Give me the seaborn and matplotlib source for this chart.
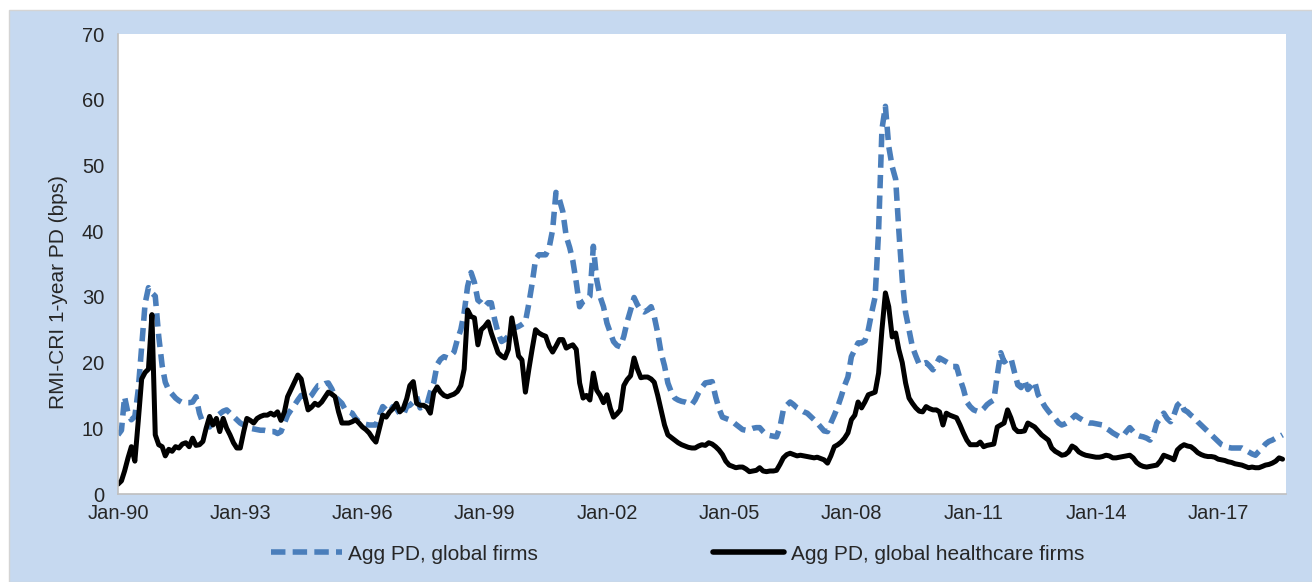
import matplotlib
matplotlib.use("Agg")
import matplotlib.pyplot as plt
from matplotlib.patches import Rectangle
from matplotlib.lines import Line2D
import numpy as np
import pandas as pd
import seaborn as sns

# ---------------- data (monthly, Jan-1990 .. Aug-2018), bps ----------------
global_pd = [
    9.0, 9.7, 14.8, 12.3, 11.3, 11.8, 15.8, 22.4, 29.0, 31.4, 30.6, 30.1,   # 1990
    24.0, 19.5, 17.0, 15.8, 15.2, 14.6, 14.2, 13.9, 13.9, 13.9, 14.0, 14.8,  # 1991
    12.3, 10.8, 10.5, 10.2, 11.3, 11.8, 12.2, 12.6, 12.8, 12.3, 11.8, 11.3,  # 1992
    10.8, 10.5, 10.2, 10.0, 9.9, 9.8, 9.7, 9.7, 9.6, 9.5, 9.5, 9.2,          # 1993
    9.5, 10.8, 12.0, 12.8, 13.5, 14.3, 15.0, 14.8, 14.6, 15.0, 15.8, 16.5,   # 1994
    16.5, 16.8, 16.9, 16.0, 14.8, 14.3, 13.8, 12.8, 12.5, 12.3, 11.5, 11.0,  # 1995
    10.8, 10.6, 10.5, 10.5, 10.5, 12.0, 13.3, 12.8, 12.5, 13.3, 13.0, 12.2,  # 1996
    12.0, 13.3, 13.5, 14.0, 14.8, 13.1, 13.3, 13.6, 15.5, 16.9, 19.7, 20.5,  # 1997
    20.9, 20.7, 21.0, 21.6, 23.5, 25.0, 27.6, 31.6, 33.7, 32.2, 29.5, 29.1,  # 1998
    28.5, 29.1, 29.1, 26.5, 24.5, 23.2, 23.5, 24.0, 25.0, 25.3, 25.5, 25.8,  # 1999
    26.2, 29.0, 32.0, 35.7, 36.4, 36.4, 36.4, 37.5, 40.2, 45.9, 44.8, 43.0,  # 2000
    39.2, 37.5, 35.5, 32.2, 28.5, 29.3, 29.6, 30.1, 37.7, 32.6, 30.0, 28.5,  # 2001
    26.0, 24.5, 23.2, 22.6, 22.4, 24.0, 26.2, 28.0, 29.9, 28.8, 28.0, 27.7,  # 2002
    28.0, 28.5, 27.0, 24.5, 21.5, 19.5, 16.9, 15.5, 14.6, 14.3, 14.1, 14.0,  # 2003
    13.8, 13.6, 14.3, 15.4, 16.2, 16.9, 17.0, 17.1, 14.8, 13.0, 11.7, 11.5,  # 2004
    11.3, 11.0, 10.6, 10.2, 9.8, 9.7, 9.8, 10.0, 10.1, 10.1, 9.5, 9.0,       # 2005
    8.9, 8.8, 8.7, 10.2, 12.8, 13.5, 14.0, 13.6, 13.1, 12.8, 12.5, 12.3,     # 2006
    11.8, 11.3, 10.8, 10.2, 9.6, 9.5, 10.8, 12.0, 13.3, 14.8, 16.5, 17.8,    # 2007
    20.9, 22.0, 23.0, 23.0, 23.3, 25.0, 27.6, 30.0, 40.0, 55.5, 59.0, 52.9,  # 2008
    49.8, 47.9, 40.2, 32.6, 27.6, 25.0, 22.4, 21.0, 19.7, 19.8, 20.0, 19.5,  # 2009
    18.9, 19.8, 20.7, 20.4, 20.1, 19.8, 19.4, 19.4, 17.5, 16.0, 14.0, 13.3,  # 2010
    12.8, 12.6, 12.5, 13.0, 13.6, 14.0, 14.3, 18.1, 21.5, 20.1, 20.5, 20.7,  # 2011
    18.6, 16.6, 16.2, 17.4, 15.9, 16.5, 17.1, 15.1, 14.2, 13.3, 12.6, 12.0,  # 2012
    11.5, 10.8, 10.5, 10.7, 11.0, 11.5, 12.0, 11.6, 11.3, 11.0, 10.8, 10.8,  # 2013
    10.7, 10.6, 10.5, 10.0, 9.7, 9.3, 9.0, 8.7, 8.8, 9.5, 10.1, 9.5,         # 2014
    9.0, 8.8, 8.7, 8.5, 8.2, 9.0, 10.8, 11.5, 12.3, 11.5, 11.0, 12.0,        # 2015
    13.5, 14.0, 12.8, 12.5, 12.0, 11.6, 11.0, 10.5, 10.0, 9.5, 9.0, 8.5,     # 2016
    8.0, 7.5, 7.3, 7.1, 7.0, 7.0, 7.0, 7.0, 6.7, 6.4, 6.1, 5.9,              # 2017
    6.5, 7.0, 7.6, 8.0, 8.2, 8.5, 8.7, 9.0,                                  # 2018
]

healthcare_pd = [
    1.5, 2.0, 3.5, 5.5, 7.2, 5.0, 11.0, 17.5, 18.5, 19.0, 27.3, 9.0,         # 1990
    7.5, 7.2, 5.8, 6.8, 6.5, 7.2, 7.0, 7.6, 7.8, 7.2, 8.5, 7.4,              # 1991
    7.5, 8.0, 10.0, 11.8, 10.5, 11.5, 9.5, 11.5, 10.0, 9.0, 7.8, 7.0,        # 1992
    7.0, 9.5, 11.5, 11.2, 10.8, 11.5, 11.8, 12.0, 12.0, 12.3, 12.0, 12.5,    # 1993
    11.2, 12.5, 14.8, 15.9, 17.0, 18.1, 17.5, 15.0, 12.8, 13.2, 13.8, 13.5,  # 1994
    14.0, 14.8, 15.5, 15.2, 14.8, 12.5, 10.8, 10.8, 10.8, 11.0, 11.3, 10.8,  # 1995
    10.2, 9.8, 9.3, 8.5, 7.9, 10.0, 12.0, 11.7, 12.5, 13.0, 13.8, 12.5,      # 1996
    13.0, 14.5, 16.5, 17.1, 13.8, 13.5, 13.5, 13.2, 12.3, 15.4, 16.3, 15.5,  # 1997
    15.0, 14.8, 15.0, 15.2, 15.6, 16.5, 19.0, 28.0, 27.0, 26.8, 22.7, 25.0,  # 1998
    25.5, 26.2, 24.5, 23.0, 21.5, 21.0, 20.7, 22.0, 26.8, 24.0, 21.0, 20.4,  # 1999
    15.5, 19.0, 22.0, 25.0, 24.5, 24.2, 24.0, 22.5, 21.6, 22.5, 23.5, 23.5,  # 2000
    22.2, 22.5, 22.7, 22.0, 16.9, 14.6, 15.0, 14.3, 18.4, 15.8, 15.0, 13.9,  # 2001
    15.1, 13.0, 11.7, 12.2, 12.8, 16.5, 17.4, 18.0, 20.7, 19.0, 17.7, 17.8,  # 2002
    17.8, 17.5, 17.0, 15.0, 12.8, 10.5, 9.0, 8.6, 8.2, 7.8, 7.5, 7.3,        # 2003
    7.1, 7.0, 7.0, 7.3, 7.5, 7.4, 7.8, 7.6, 7.2, 6.7, 6.0, 5.0,              # 2004
    4.4, 4.2, 4.0, 4.1, 4.1, 3.8, 3.4, 3.5, 3.6, 4.0, 3.5, 3.4,              # 2005
    3.5, 3.5, 3.6, 4.5, 5.5, 6.0, 6.2, 6.0, 5.8, 5.9, 5.8, 5.7,              # 2006
    5.6, 5.5, 5.6, 5.4, 5.2, 4.7, 5.8, 7.2, 7.5, 7.9, 8.5, 9.3,              # 2007
    11.3, 12.0, 14.0, 13.1, 14.0, 15.1, 15.3, 15.5, 18.4, 25.0, 30.6, 28.5,  # 2008
    23.9, 24.5, 22.0, 20.0, 16.9, 14.6, 13.8, 13.1, 12.6, 12.5, 13.3, 13.0,  # 2009
    12.8, 12.8, 12.5, 10.5, 12.3, 12.0, 11.8, 11.6, 10.5, 9.3, 8.2, 7.5,     # 2010
    7.5, 7.5, 7.9, 7.2, 7.4, 7.5, 7.6, 10.2, 10.5, 10.8, 12.8, 11.6,         # 2011
    10.0, 9.5, 9.5, 9.6, 10.8, 10.5, 10.2, 9.6, 9.0, 8.6, 8.2, 7.0,          # 2012
    6.5, 6.2, 5.9, 6.0, 6.4, 7.3, 7.0, 6.4, 6.1, 5.9, 5.8, 5.7,              # 2013
    5.6, 5.6, 5.7, 5.9, 5.8, 5.5, 5.5, 5.6, 5.7, 5.8, 5.9, 5.5,              # 2014
    4.8, 4.4, 4.2, 4.1, 4.2, 4.3, 4.4, 5.0, 5.9, 5.7, 5.5, 5.2,              # 2015
    6.7, 7.2, 7.5, 7.3, 7.2, 6.8, 6.3, 6.0, 5.8, 5.7, 5.7, 5.6,              # 2016
    5.3, 5.2, 5.1, 4.9, 4.8, 4.6, 4.5, 4.4, 4.2, 4.0, 4.1, 4.0,              # 2017
    4.0, 4.2, 4.4, 4.5, 4.7, 5.0, 5.5, 5.3,                                  # 2018
]

series_labels = ["Agg PD, global firms", "Agg PD, global healthcare firms"]
y_label = "RMI-CRI 1-year PD (bps)"
y_ticks = [0, 10, 20, 30, 40, 50, 60, 70]
start_month = "1990-01-01"

dates = pd.date_range(start_month, periods=len(global_pd), freq="MS")
df = pd.DataFrame({"date": dates, "global": global_pd, "health": healthcare_pd})

# ---------------- style ----------------
sns.set_theme(style="white")
plt.rcParams["font.family"] = ["Liberation Sans", "DejaVu Sans"]

W, H = 1312, 582
fig = plt.figure(figsize=(W / 100, H / 100), dpi=100, facecolor="white")
bg = "#C6D9F0"
fig.patches.append(Rectangle((9 / W, 0), 1 - 9 / W, 1 - 10 / H, transform=fig.transFigure,
                             facecolor=bg, edgecolor="#d4d4d4", linewidth=1.0, zorder=-10))

ax = fig.add_axes([118 / W, 1 - 494 / H, (1286 - 118) / W, (494 - 34) / H])
ax.set_zorder(5)
ax.set_facecolor("white")

blue = "#4A7EBB"
sns.lineplot(data=df, x="date", y="global", ax=ax, color=blue, linewidth=4.0,
             label=series_labels[0], legend=False)
sns.lineplot(data=df, x="date", y="health", ax=ax, color="black", linewidth=3.6,
             label=series_labels[1], legend=False)
ax.lines[0].set_dashes((2.4, 1.3))
ax.lines[0].set_dash_capstyle("butt")
ax.lines[1].set_solid_joinstyle("round")

ax.set_ylim(0, 70)
ax.set_yticks(y_ticks)
ax.set_xlim(pd.Timestamp("1990-01-01"), pd.Timestamp("2018-09-01"))
year_ticks = pd.date_range("1990-01-01", "2018-01-01", freq="YS")
ax.set_xticks(year_ticks)
ax.set_xticklabels([d.strftime("%b-%y") if (d.year - 1990) % 3 == 0 else "" for d in year_ticks])

for s in ["top", "right"]:
    ax.spines[s].set_visible(False)
for s in ["left", "bottom"]:
    ax.spines[s].set_color("#bfbfbf")
    ax.spines[s].set_linewidth(1.2)
ax.tick_params(axis="both", which="major", length=5, width=1.0, color="#bfbfbf",
               labelsize=14.5, labelcolor="#262626", direction="out")
ax.tick_params(axis="x", pad=2)
ax.tick_params(axis="y", pad=5)
ax.set_xlabel("")
ax.set_ylabel(y_label, fontsize=15, color="#262626")
ax.yaxis.set_label_coords(-0.043, 0.44)

handles = [Line2D([], [], color=blue, linewidth=4.0, dashes=(2.6, 1.3)),
           Line2D([], [], color="black", linewidth=4.0)]
fig.legend(handles, series_labels, loc="center", bbox_to_anchor=(0.5164, 1 - 554 / H),
           ncol=2, frameon=False, fontsize=15, handlelength=3.4, handletextpad=0.33,
           columnspacing=8.4, labelcolor="#262626")

fig.savefig("out.png", dpi=100, facecolor=fig.get_facecolor())
